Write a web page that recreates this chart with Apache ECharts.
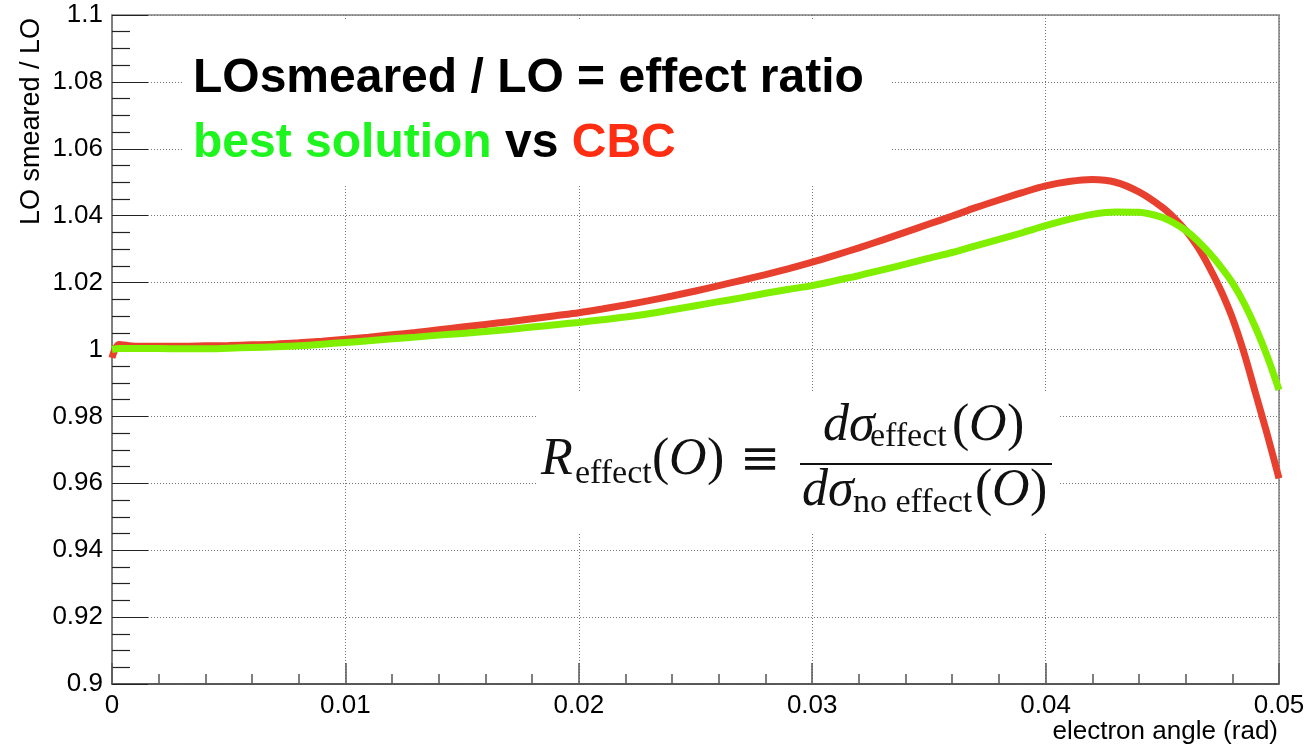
<!DOCTYPE html>
<html>
<head>
<meta charset="utf-8">
<title>LOsmeared / LO = effect ratio</title>
<script src="https://cdn.jsdelivr.net/npm/echarts@6.0.0/dist/echarts.min.js"></script>
<style>
  html, body { margin: 0; padding: 0; background: #fff; }
  #chart { width: 1308px; height: 749px; }
</style>
</head>
<body>
<div id="chart"></div>
<script>
// Electron angle bins (rad)
const xValues = [
  0, 0.0003, 0.001, 0.002, 0.003, 0.004, 0.005, 0.006, 0.007, 0.008, 0.009,
  0.010, 0.011, 0.012, 0.013, 0.014, 0.015, 0.016, 0.017, 0.018, 0.019,
  0.020, 0.021, 0.022, 0.023, 0.024, 0.025, 0.026, 0.027, 0.028, 0.029,
  0.030, 0.031, 0.032, 0.033, 0.034, 0.035, 0.036, 0.037, 0.038, 0.039,
  0.040, 0.041, 0.042, 0.043, 0.044, 0.045, 0.0455, 0.046, 0.0465, 0.047,
  0.0475, 0.048, 0.0485, 0.049, 0.0495, 0.050
];

// LO smeared / LO with the CBC smearing
const cbcRatio = [
  0.9975, 1.0015, 1.0010, 1.0010, 1.0010, 1.0011, 1.0012, 1.0014, 1.0016, 1.0020, 1.0025,
  1.0031, 1.0037, 1.0044, 1.0051, 1.0059, 1.0067, 1.0075, 1.0083, 1.0092, 1.0101,
  1.0110, 1.0121, 1.0133, 1.0146, 1.0160, 1.0175, 1.0191, 1.0207, 1.0224, 1.0242,
  1.0261, 1.0282, 1.0304, 1.0327, 1.0351, 1.0375, 1.0399, 1.0424, 1.0447, 1.0469,
  1.0489, 1.0502, 1.0508, 1.0500, 1.0471, 1.0425, 1.0394, 1.0356, 1.0308, 1.0248,
  1.0178, 1.0095, 0.9990, 0.9868, 0.9745, 0.9615
];

// LO smeared / LO with the best-solution smearing
const bestRatio = [
  1.0000, 1.0003, 1.0003, 1.0003, 1.0002, 1.0002, 1.0004, 1.0006, 1.0008, 1.0011, 1.0016,
  1.0021, 1.0026, 1.0032, 1.0037, 1.0043, 1.0048, 1.0054, 1.0060, 1.0067, 1.0074,
  1.0081, 1.0089, 1.0097, 1.0107, 1.0119, 1.0131, 1.0143, 1.0155, 1.0168, 1.0180,
  1.0191, 1.0206, 1.0221, 1.0238, 1.0255, 1.0273, 1.0290, 1.0310, 1.0329, 1.0349,
  1.0370, 1.0389, 1.0404, 1.0411, 1.0410, 1.0395, 1.0378, 1.0356, 1.0326, 1.0290,
  1.0248, 1.0200, 1.0139, 1.0065, 0.9979, 0.9879
];

const xTickLabels = ['0', '0.01', '0.02', '0.03', '0.04', '0.05'];
const yTickLabels = ['0.9', '0.92', '0.94', '0.96', '0.98', '1', '1.02', '1.04', '1.06', '1.08', '1.1'];

const X_MIN = 0, X_MAX = 0.05, X_STEP = 0.01;
const Y_MIN = 0.9, Y_MAX = 1.1, Y_STEP = 0.02;

const SANS = '"Liberation Sans", Arial, Helvetica, sans-serif';
const SERIF = '"Liberation Serif", "DejaVu Serif", "Times New Roman", serif';
const MATHSYM = '"DejaVu Serif", "Liberation Serif", serif';

const chart = echarts.init(document.getElementById('chart'), null, { renderer: 'canvas' });

const gridLine = { show: true, lineStyle: { color: '#777', width: 1, type: [1, 2] } };

const option = {
  animation: false,
  backgroundColor: '#ffffff',
  grid: {
    left: 112, right: 29, top: 15, bottom: 65,
    show: true, borderColor: '#808080', borderWidth: 1.5, backgroundColor: 'transparent'
  },
  xAxis: {
    type: 'value',
    min: X_MIN, max: X_MAX, interval: X_STEP,
    axisLine: { show: true, onZero: false, lineStyle: { color: '#444', width: 1.5 } },
    axisTick: { show: true, inside: true, length: 21, lineStyle: { color: '#555', width: 1.5 } },
    minorTick: { show: true, splitNumber: 5, length: 10, lineStyle: { color: '#555', width: 1.5 } },
    splitLine: gridLine,
    axisLabel: {
      margin: 9, color: '#000', fontFamily: SANS, fontSize: 26,
      formatter: v => xTickLabels[Math.round((v - X_MIN) / X_STEP)]
    }
  },
  yAxis: {
    type: 'value',
    min: Y_MIN, max: Y_MAX, interval: Y_STEP,
    axisLine: { show: true, onZero: false, lineStyle: { color: '#777', width: 1.5 } },
    axisTick: { show: true, inside: true, length: 36, lineStyle: { color: '#222', width: 1.2 } },
    minorTick: { show: true, splitNumber: 4, length: 18, lineStyle: { color: '#222', width: 1.2 } },
    splitLine: gridLine,
    axisLabel: {
      margin: 9, color: '#000', fontFamily: SANS, fontSize: 26,
      formatter: v => yTickLabels[Math.round((v - Y_MIN) / Y_STEP)]
    }
  },
  series: [
    {
      name: 'CBC',
      type: 'line',
      data: xValues.map((x, i) => [x, cbcRatio[i]]),
      showSymbol: false,
      smooth: 0.3,
      clip: false,
      z: 3,
      lineStyle: { color: '#e8402f', width: 7 }
    },
    {
      name: 'best solution',
      type: 'line',
      data: xValues.map((x, i) => [x, bestRatio[i]]),
      showSymbol: false,
      smooth: 0.3,
      clip: false,
      z: 4,
      lineStyle: { color: '#80f000', width: 7 }
    }
  ],
  graphic: [
    // white panels behind the headline and the formula
    { type: 'rect', z: 1, shape: { x: 183, y: 20, width: 709, height: 165 }, style: { fill: '#fff' } },
    { type: 'rect', z: 1, shape: { x: 537, y: 392, width: 522, height: 140 }, style: { fill: '#fff' } },

    // headline
    {
      type: 'text', z: 5, x: 193, y: 79,
      style: {
        text: 'LOsmeared / LO = effect ratio',
        font: 'bold 48px ' + SANS, fill: '#000', align: 'left', verticalAlign: 'middle'
      }
    },
    {
      type: 'text', z: 5, x: 193, y: 144,
      style: {
        text: '{g|best solution} {k|vs} {r|CBC}',
        font: 'bold 48px ' + SANS, align: 'left', verticalAlign: 'middle',
        rich: {
          g: { fill: '#1ef51e', font: 'bold 48px ' + SANS },
          k: { fill: '#000', font: 'bold 48px ' + SANS },
          r: { fill: '#ff2e12', font: 'bold 48px ' + SANS }
        }
      }
    },

    // formula: R_effect(O) = dsigma_effect(O) / dsigma_no effect(O)
    { type: 'text', z: 5, x: 541, y: 460, style: { text: 'R', font: 'italic 52px ' + SERIF, fill: '#111', verticalAlign: 'middle' } },
    { type: 'text', z: 5, x: 575, y: 474, style: { text: 'effect', font: '34px ' + SERIF, fill: '#111', verticalAlign: 'middle' } },
    { type: 'text', z: 5, x: 652, y: 460, style: { text: '(', font: '52px ' + SERIF, fill: '#111', verticalAlign: 'middle' } },
    { type: 'text', z: 5, x: 669, y: 460, style: { text: 'O', font: 'italic 52px ' + SERIF, fill: '#111', verticalAlign: 'middle' } },
    { type: 'text', z: 5, x: 707, y: 460, style: { text: ')', font: '52px ' + SERIF, fill: '#111', verticalAlign: 'middle' } },
    { type: 'text', z: 5, x: 760, y: 462, style: { text: '\u2261', font: '48px ' + MATHSYM, fill: '#111', align: 'center', verticalAlign: 'middle' } },

    { type: 'text', z: 5, x: 823, y: 426, style: { text: 'd\u03c3', font: 'italic 52px ' + SERIF, fill: '#111', verticalAlign: 'middle' } },
    { type: 'text', z: 5, x: 870, y: 437, style: { text: 'effect', font: '34px ' + SERIF, fill: '#111', verticalAlign: 'middle' } },
    { type: 'text', z: 5, x: 952, y: 426, style: { text: '(', font: '52px ' + SERIF, fill: '#111', verticalAlign: 'middle' } },
    { type: 'text', z: 5, x: 969, y: 426, style: { text: 'O', font: 'italic 52px ' + SERIF, fill: '#111', verticalAlign: 'middle' } },
    { type: 'text', z: 5, x: 1007, y: 426, style: { text: ')', font: '52px ' + SERIF, fill: '#111', verticalAlign: 'middle' } },

    { type: 'line', z: 5, shape: { x1: 800, y1: 464, x2: 1052, y2: 464 }, style: { stroke: '#111', lineWidth: 2 } },

    { type: 'text', z: 5, x: 802, y: 491, style: { text: 'd\u03c3', font: 'italic 52px ' + SERIF, fill: '#111', verticalAlign: 'middle' } },
    { type: 'text', z: 5, x: 853, y: 503, style: { text: 'no effect', font: '34px ' + SERIF, fill: '#111', verticalAlign: 'middle' } },
    { type: 'text', z: 5, x: 975, y: 491, style: { text: '(', font: '52px ' + SERIF, fill: '#111', verticalAlign: 'middle' } },
    { type: 'text', z: 5, x: 992, y: 491, style: { text: 'O', font: 'italic 52px ' + SERIF, fill: '#111', verticalAlign: 'middle' } },
    { type: 'text', z: 5, x: 1030, y: 491, style: { text: ')', font: '52px ' + SERIF, fill: '#111', verticalAlign: 'middle' } },

    // axis titles
    {
      type: 'text', z: 5, x: 32, y: 18, rotation: Math.PI / 2,
      style: { text: 'LO smeared / LO', font: '27px ' + SANS, fill: '#000', align: 'right', verticalAlign: 'middle' }
    },
    {
      type: 'text', z: 5, x: 1278, y: 732,
      style: { text: 'electron angle (rad)', font: '26px ' + SANS, fill: '#000', align: 'right', verticalAlign: 'middle' }
    }
  ]
};

chart.setOption(option);
</script>
</body>
</html>
